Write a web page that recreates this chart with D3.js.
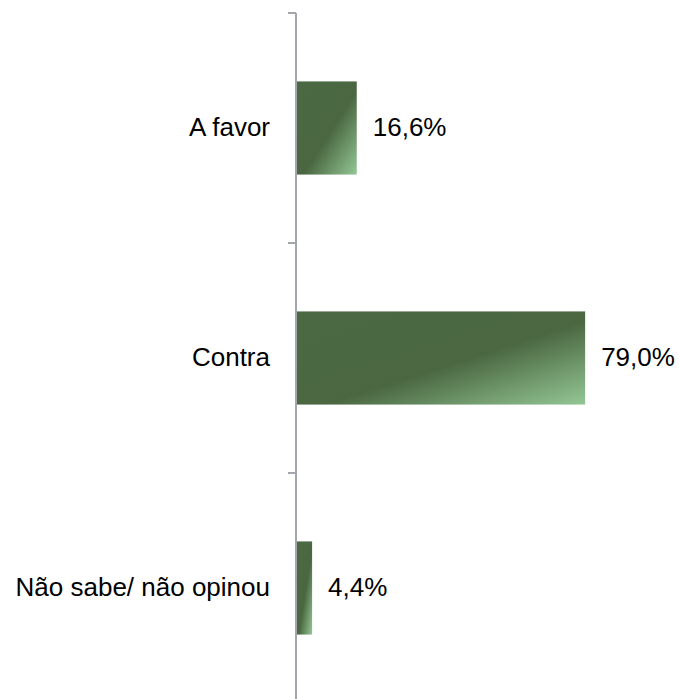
<!DOCTYPE html>
<meta charset="utf-8">
<style type="text/css">
  body { margin: 0; background: #fff; }
  text { font-family: "Liberation Sans", Arial, sans-serif; font-size: 26px; fill: #000; }
  .axis-line { stroke: #a3a6ad; stroke-width: 2; fill: none; }
</style>
<body>
</body>
<script src="https://d3js.org/d3.v7.min.js"></script>
<script>
  // data
  var categories = ["A favor", "Contra", "Não sabe/ não opinou"];
  var values = [16.6, 79.0, 4.4];
  var valueLabels = ["16,6%", "79,0%", "4,4%"];

  var width = 679, height = 699;

  var svg = d3.select("body").append("svg")
    .attr("width", width)
    .attr("height", height);

  // diagonal gradient: dark green, lightening toward bottom-right corner
  var grad = svg.append("defs").append("linearGradient")
    .attr("id", "barGrad")
    .attr("x1", "0").attr("y1", "0")
    .attr("x2", "1").attr("y2", "1");
  grad.append("stop").attr("offset", "0").attr("stop-color", "#4b6a43");
  grad.append("stop").attr("offset", "0.55").attr("stop-color", "#4a6741");
  grad.append("stop").attr("offset", "1").attr("stop-color", "#94c795");

  var y = d3.scaleBand()
    .domain(categories)
    .range([13, 703])
    .paddingInner(0.595)
    .paddingOuter(0.2975);

  var x = d3.scaleLinear()
    .domain([0, 100])
    .range([296, 662]);

  // axis line and ticks at band boundaries
  var step = y.step();
  var bounds = d3.range(categories.length + 1).map(function(i) { return y.range()[0] + i * step; });

  svg.append("line")
    .attr("class", "axis-line")
    .attr("x1", x(0)).attr("x2", x(0))
    .attr("y1", bounds[0]).attr("y2", bounds[bounds.length - 1]);

  svg.selectAll(".tick")
    .data(bounds)
    .enter().append("line")
    .attr("class", "axis-line")
    .attr("x1", x(0) - 8).attr("x2", x(0))
    .attr("y1", function(d) { return d; })
    .attr("y2", function(d) { return d; });

  // bars
  svg.selectAll(".bar")
    .data(values)
    .enter().append("rect")
    .attr("class", "bar")
    .attr("x", x(0) + 1)
    .attr("y", function(d, i) { return y(categories[i]); })
    .attr("width", function(d) { return x(d) - x(0) - 1; })
    .attr("height", y.bandwidth())
    .attr("fill", "url(#barGrad)");

  // category labels
  svg.selectAll(".cat")
    .data(categories)
    .enter().append("text")
    .attr("x", x(0) - 26)
    .attr("y", function(d) { return y(d) + y.bandwidth() / 2; })
    .attr("dy", "0.3em")
    .attr("text-anchor", "end")
    .text(function(d) { return d; });

  // value labels
  svg.selectAll(".val")
    .data(values)
    .enter().append("text")
    .attr("x", function(d) { return x(d) + 16; })
    .attr("y", function(d, i) { return y(categories[i]) + y.bandwidth() / 2; })
    .attr("dy", "0.3em")
    .text(function(d, i) { return valueLabels[i]; });
</script>
